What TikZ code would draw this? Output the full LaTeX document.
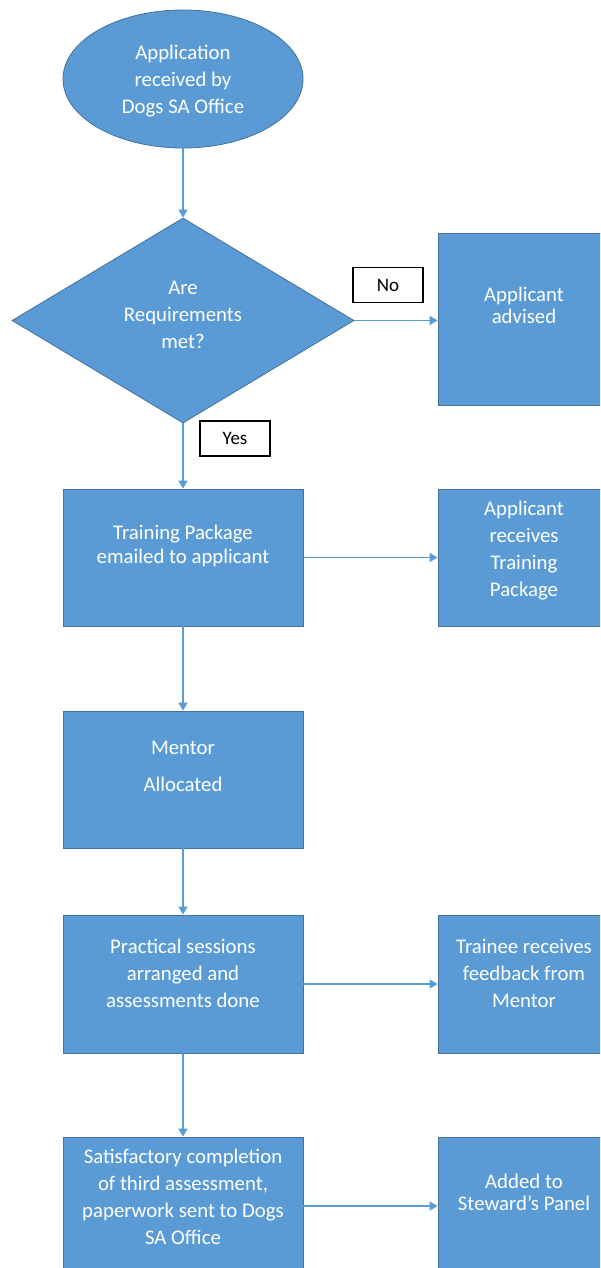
\documentclass[tikz,border=0pt]{standalone}
\usepackage{fontspec}
\setmainfont{Carlito}
\usetikzlibrary{shapes.geometric,arrows.meta}
\definecolor{fillblue}{HTML}{5B9BD5}
\definecolor{edgeblue}{HTML}{41719C}
\definecolor{arrowblue}{HTML}{5B9BD5}
\newcommand{\sst}{\rule[-0.27em]{0pt}{1em}}
\begin{document}
\begin{tikzpicture}[x=1pt,y=-1pt,
  shapebox/.style={draw=edgeblue, fill=fillblue, line width=0.8pt, inner sep=0pt},
  wide/.style={minimum width=240pt},
  narrow/.style={minimum width=172pt},
  txt/.style={text=white, align=center, inner sep=0pt, font=\fontsize{20.8}{27}\selectfont},
  flow/.style={draw=arrowblue, line width=1.3pt, -{Triangle[length=8pt,width=9pt]}},
  tag/.style={draw=black, fill=white, line width=1.4pt, minimum width=70pt, minimum height=35pt, inner sep=0pt, font=\fontsize{19}{22}\selectfont}]
\useasboundingbox (0,0) rectangle (600,1268);
\clip (0,0) rectangle (600,1268);
\fill[white] (0,0) rectangle (600,1268);
% shapes
\node[shapebox, ellipse, minimum width=240pt, minimum height=138pt] (start) at (183,79) {};
\node[shapebox, diamond, minimum width=342pt, minimum height=205pt] (req) at (183,320.5) {};
\node[shapebox, narrow, minimum height=172pt] (adv) at (524,319) {};
\node[shapebox, wide, minimum height=137pt] (train) at (183,557.5) {};
\node[shapebox, narrow, minimum height=137pt] (recv) at (524,557.5) {};
\node[shapebox, wide, minimum height=137pt] (mentor) at (183,779.5) {};
\node[shapebox, wide, minimum height=138pt] (prac) at (183,984) {};
\node[shapebox, narrow, minimum height=138pt] (trainee) at (524,984) {};
\node[shapebox, wide, minimum height=138pt] (satis) at (183,1206) {};
\node[shapebox, narrow, minimum height=138pt] (added) at (524,1206) {};
% texts
\node[txt] (tstart) at (183,81.5) {\sst Application\\\sst received by\\\sst Dogs SA Office};
\node[txt] (treq) at (183,316.5) {\sst Are\\\sst Requirements\\\sst met?};
\node[txt, font=\fontsize{20.8}{22}\selectfont] (tadv) at (524,308) {\sst Applicant\\\sst advised};
\node[txt, font=\fontsize{20.8}{24}\selectfont] (ttrain) at (183,547) {\sst Training Package\\\sst emailed to applicant};
\node[txt] (trecv) at (524,551.5) {\sst Applicant\\\sst receives\\\sst Training\\\sst Package};
\node[txt, font=\fontsize{20.8}{37}\selectfont] (tmentor) at (183,768.5) {\sst Mentor\\\sst Allocated};
\node[txt] (tprac) at (183,975.5) {\sst Practical sessions\\\sst arranged and\\\sst assessments done};
\node[txt] (ttrainee) at (524,975.5) {\sst Trainee receives\\\sst feedback from\\\sst Mentor};
\node[txt] (tsatis) at (183,1199.5) {\sst Satisfactory completion\\\sst of third assessment,\\\sst paperwork sent to Dogs\\\sst SA Office};
\node[txt, font=\fontsize{20.8}{22}\selectfont] (tadded) at (524,1195) {\sst Added to\\\sst Steward’s Panel};
% connectors
\draw[flow] (start.south) -- (req.north);
\draw[flow] (req.east) -- (req.east -| adv.west);
\draw[flow] (req.south) -- (train.north);
\draw[flow] (train.east) -- (train.east -| recv.west);
\draw[flow] (train.south) -- (mentor.north);
\draw[flow] (mentor.south) -- (prac.north);
\draw[flow] (prac.east) -- (prac.east -| trainee.west);
\draw[flow] (prac.south) -- (satis.north);
\draw[flow] (satis.east) -- (satis.east -| added.west);
% labels
\node[tag] (no) at (388,285) {No};
\node[tag] (yes) at (235,438.5) {Yes};
\end{tikzpicture}
\end{document}
